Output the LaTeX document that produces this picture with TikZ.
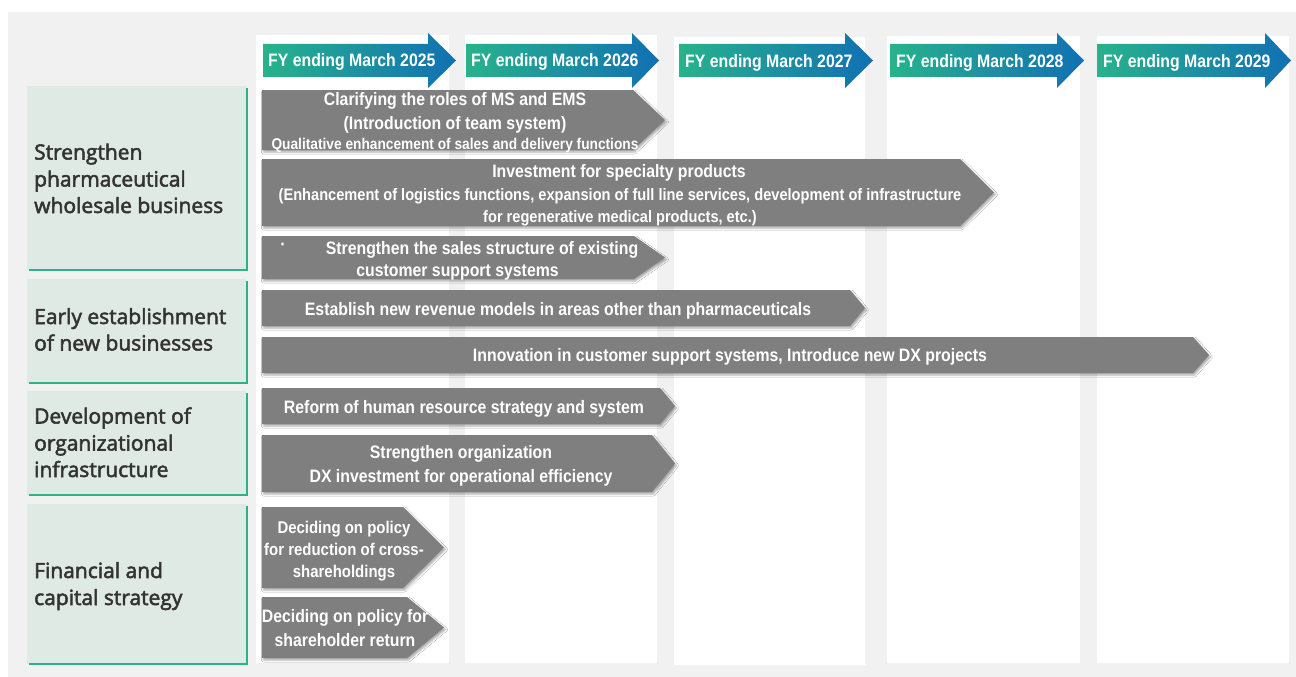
\documentclass[tikz,border=0pt]{standalone}
\usepackage{fontspec}
\setmainfont{Liberation Sans}
\newfontfamily\narf[FakeStretch=0.88]{Liberation Sans}
\newfontfamily\catf[FakeBold=2.5]{Open Sans}
\usetikzlibrary{shadows.blur}
\definecolor{panelgray}{HTML}{F1F1F1}
\definecolor{catfill}{HTML}{E0EAE5}
\definecolor{catline}{HTML}{2EB08C}
\definecolor{cattext}{HTML}{333333}
\definecolor{arrowgray}{HTML}{7F7F7F}
\definecolor{fyleft}{HTML}{27B38C}
\definecolor{fyright}{HTML}{1170B3}
\newcommand\grayarrow[5]{% x0, xhead, xtip, ytop, ybottom
  \path[garrowstyle] (#1,#4) -- (#2,#4) -- (#3,{(#4+#5)/2}) -- (#2,#5) -- (#1,#5) -- cycle;}
\newcommand\fyarrow[3]{% x0, xhead, xtip
  \path[fystyle] (#1,44) -- (#2,44) -- (#2,33) -- (#3,60.5) -- (#2,88) -- (#2,77) -- (#1,77) -- cycle;}
\begin{document}
\begin{tikzpicture}[x=1pt,y=-1pt,
  colbox/.style={fill=white},
  catbox/.style={fill=catfill},
  catedge/.style={draw=catline, line width=2.6pt},
  cattxt/.style={font=\catf\fontsize{21}{24}\selectfont, text=cattext, anchor=base west, inner sep=0pt},
  garrowstyle/.style={fill=arrowgray, blur shadow={shadow xshift=1.5pt, shadow yshift=-2pt, shadow blur radius=2pt, shadow opacity=35}},
  fystyle/.style={left color=fyleft, right color=fyright},
  fytxt/.style={font=\narf\bfseries\fontsize{18}{22}\selectfont, text=white, anchor=base west, inner sep=0pt},
  gtxt/.style={font=\narf\bfseries\fontsize{18}{22}\selectfont, text=white, anchor=base, inner sep=0pt},
  gtxtm/.style={gtxt, font=\narf\bfseries\fontsize{16.6}{20}\selectfont},
  gtxts/.style={gtxt, font=\narf\bfseries\fontsize{15.6}{19}\selectfont},
  gtxtd/.style={gtxt, font=\narf\bfseries\fontsize{17}{20}\selectfont}]
\useasboundingbox (0,0) rectangle (1296,677);
\fill[white] (0,0) rectangle (1296,677);
\fill[panelgray] (8,12) rectangle (1296,677);
% year columns
\fill[colbox] (256,35) rectangle (449,663);
\fill[colbox] (465,35) rectangle (657,663);
\fill[colbox] (674,37) rectangle (865,665);
\fill[colbox] (887,36) rectangle (1080,663);
\fill[colbox] (1097,36) rectangle (1289,663);
% FY arrows
\fyarrow{263}{428}{456}
\fyarrow{466}{632}{659}
\fyarrow{679}{845}{873}
\fyarrow{890}{1057}{1084}
\fyarrow{1097}{1265}{1291}
\node[fytxt] (fy1) at (268,66.5) {FY ending March 2025};
\node[fytxt] (fy2) at (471,66.5) {FY ending March 2026};
\node[fytxt] (fy3) at (685,67.5) {FY ending March 2027};
\node[fytxt] (fy4) at (896,67.5) {FY ending March 2028};
\node[fytxt] (fy5) at (1103,67.5) {FY ending March 2029};
% category boxes
\fill[catbox] (27,86) rectangle (246,270);
\draw[catedge] (247,88) -- (247,271.3);
\draw[catedge] (29,270) -- (248.3,270);
\fill[catbox] (27,279) rectangle (246,383);
\draw[catedge] (247,281) -- (247,384.3);
\draw[catedge] (29,383) -- (248.3,383);
\fill[catbox] (27,391) rectangle (246,495);
\draw[catedge] (247,393) -- (247,496.3);
\draw[catedge] (29,495) -- (248.3,495);
\fill[catbox] (27,504) rectangle (246,664);
\draw[catedge] (247,506) -- (247,665.3);
\draw[catedge] (29,664) -- (248.3,664);
\node[cattxt] (c1a) at (34,159.5) {Strengthen};
\node[cattxt] (c1b) at (34,186.5) {pharmaceutical};
\node[cattxt] (c1c) at (34,213) {wholesale business};
\node[cattxt] (c2a) at (34,324) {Early establishment};
\node[cattxt] (c2b) at (34,350.5) {of new businesses};
\node[cattxt] (c3a) at (34,423.5) {Development of};
\node[cattxt] (c3b) at (34,450.5) {organizational};
\node[cattxt] (c3c) at (34,477) {infrastructure};
\node[cattxt] (c4a) at (34,578) {Financial and};
\node[cattxt] (c4b) at (34,605) {capital strategy};
% gray arrows
\grayarrow{262}{633}{665}{90}{150}
\grayarrow{262}{960}{994}{159}{226}
\grayarrow{262}{634}{665}{236}{279}
\grayarrow{262}{850}{865}{290}{326}
\grayarrow{262}{1193}{1209}{337}{373}
\grayarrow{262}{660}{675}{388}{424}
\grayarrow{262}{652}{675}{435}{492}
\grayarrow{262}{403}{444}{507}{588}
\grayarrow{262}{407}{444}{597}{658}
% arrow texts
\node[gtxt] (a1a) at (455,106) {Clarifying the roles of MS and EMS};
\node[gtxt] (a1b) at (455,129.5) {(Introduction of team system)};
\node[gtxts] (a1c) at (455,149) {Qualitative enhancement of sales and delivery functions};
\node[gtxt] (a2a) at (619,177.5) {Investment for specialty products};
\node[gtxtm] (a2b) at (620,200.5) {(Enhancement of logistics functions, expansion of full line services, development of infrastructure};
\node[gtxtm] (a2c) at (620,222.5) {for regenerative medical products, etc.)};
\node[gtxt] (a3dot) at (283,250.5) {·};
\node[gtxt] (a3a) at (482,254.5) {Strengthen the sales structure of existing};
\node[gtxt] (a3b) at (457.5,276) {customer support systems};
\node[gtxt] (a4) at (558,315) {Establish new revenue models in areas other than pharmaceuticals};
\node[gtxt] (a5) at (730,361.5) {Innovation in customer support systems, Introduce new DX projects};
\node[gtxt] (a6) at (464,413) {Reform of human resource strategy and system};
\node[gtxt] (a7a) at (461,458.5) {Strengthen organization};
\node[gtxt] (a7b) at (461,482) {DX investment for operational efficiency};
\node[gtxtd] (a8a) at (344,533.5) {Deciding on policy};
\node[gtxtd] (a8b) at (344,555.5) {for reduction of cross-};
\node[gtxtd] (a8c) at (344,577.5) {shareholdings};
\node[gtxt] (a9a) at (345,622.5) {Deciding on policy for};
\node[gtxt] (a9b) at (345,646) {shareholder return};
\end{tikzpicture}
\end{document}
